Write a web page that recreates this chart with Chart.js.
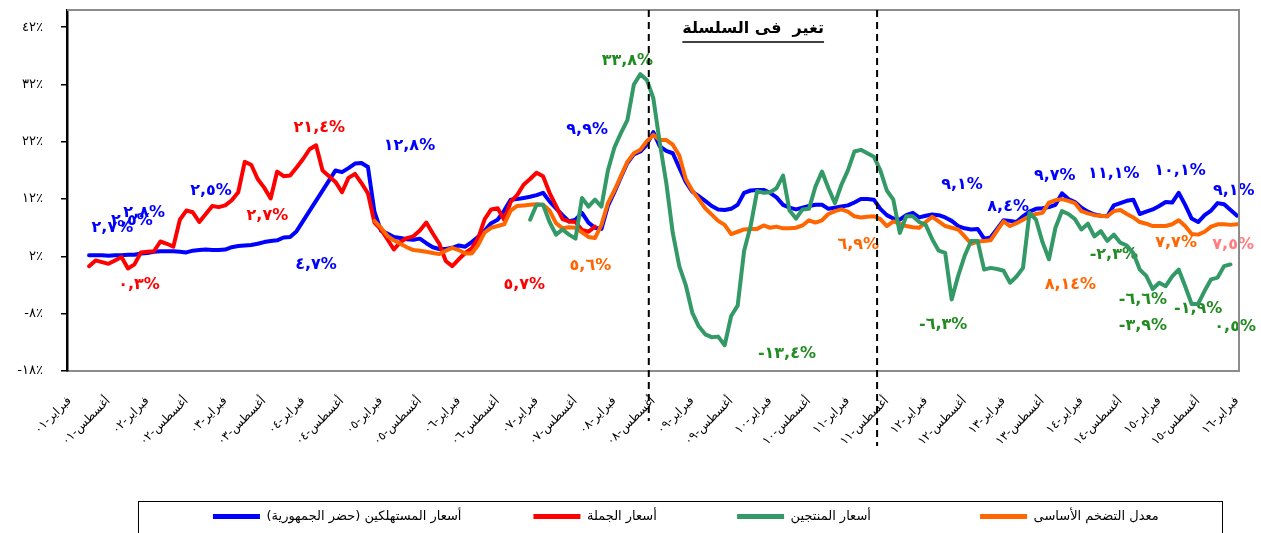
<!DOCTYPE html>
<html lang="ar">
<head>
    <meta charset="UTF-8">
    <title>تغير فى السلسلة</title>
    <script src="https://cdn.jsdelivr.net/npm/chart.js"></script>
    <style>
        html, body { margin: 0; padding: 0; background: #fff; }
        #wrap { width: 1261px; height: 533px; position: relative; }
    </style>
</head>
<body>
<div id="wrap"><canvas id="chart"></canvas></div>
<script>
// month index: 0 = فبراير 2001 ... 180 = فبراير 2016
const tickMonths = [0, 6, 12, 18, 24, 30, 36, 42, 48, 54, 60, 66, 72, 78, 84, 90,
    96, 102, 108, 114, 120, 126, 132, 138, 144, 150, 156, 162, 168, 174, 180];
const xTickLabels = [
    'فبراير-٠١', 'أغسطس-٠١', 'فبراير-٠٢', 'أغسطس-٠٢', 'فبراير-٠٣', 'أغسطس-٠٣',
    'فبراير-٠٤', 'أغسطس-٠٤', 'فبراير-٠٥', 'أغسطس-٠٥', 'فبراير-٠٦', 'أغسطس-٠٦',
    'فبراير-٠٧', 'أغسطس-٠٧', 'فبراير-٠٨', 'أغسطس-٠٨', 'فبراير-٠٩', 'أغسطس-٠٩',
    'فبراير-١٠', 'أغسطس-١٠', 'فبراير-١١', 'أغسطس-١١', 'فبراير-١٢', 'أغسطس-١٢',
    'فبراير-١٣', 'أغسطس-١٣', 'فبراير-١٤', 'أغسطس-١٤', 'فبراير-١٥', 'أغسطس-١٥',
    'فبراير-١٦'
];
const yTicks = [-18, -8, 2, 12, 22, 32, 42];

// أسعار المستهلكين (حضر الجمهورية) - from month 3
const cpiStart = 3;
const cpi = [
    2.2, 2.2, 2.2, 2.1, 2.2, 2.2, 2.3, 2.3, 2.5, 2.6,
    2.8, 2.9, 2.9, 2.9, 2.8, 2.7, 3.0, 3.1, 3.2, 3.1,
    3.1, 3.2, 3.6, 3.8, 3.9, 4.0, 4.2, 4.5, 4.7, 4.8,
    5.3, 5.4, 6.4, null, null, null, null, null, 17.0, 16.7,
    17.4, 18.2, 18.3, 17.6, 9.8, 6.5, 6.0, 5.4, 5.2, 5.0,
    4.9, 5.1, 4.3, 3.6, 3.3, 3.3, 3.5, 3.9, 3.7, 4.5,
    5.4, 6.5, 7.8, 8.4, 10.0, 11.9, 12.0, 12.2, 12.4, 12.7,
    13.1, 11.6, 10.4, 9.2, 8.1, 8.4, 9.6, 7.9, 7.0, 6.8,
    10.8, 13.2, 15.8, 18.3, 19.8, 20.3, 21.5, 23.7, 21.2, 20.4,
    20.0, 17.5, 15.0, 13.3, 12.5, 11.7, 10.8, 10.2, 10.1, 10.3,
    11.0, 13.1, 13.5, 13.6, 13.6, 13.1, 12.3, 11.0, 10.5, 10.2,
    10.5, 10.8, 11.0, 11.0, 10.3, 10.5, 10.7, 10.9, 11.4, 12.0,
    12.0, 11.9, 10.3, 9.2, 8.6, 8.4, 9.2, 9.6, 8.8, 9.1,
    9.3, 9.2, 8.8, 8.2, 7.3, 6.9, 6.7, 6.8, 5.1, 5.3,
    6.8, 8.3, 8.2, 8.0, 9.0, 9.8, 10.3, 10.4, 10.6, 11.0,
    13.0, 12.0, 11.5, 10.5, 9.8, 9.3, 9.1, 9.0, 10.9, 11.3,
    11.7, 11.9, 9.4, 9.8, 10.2, 10.8, 11.5, 11.4, 13.1, 11.0,
    8.6, 8.0, 9.2, 10.0, 11.3, 11.1, 10.1, 9.1
];

// أسعار الجملة - from month 3
const wpiStart = 3;
const wpi = [
    0.3, 1.3, 1.0, 0.7, 1.3, 1.9, -0.1, 0.6, 2.7, 2.8,
    2.9, 4.6, 4.2, 3.7, 8.4, 10.0, 9.7, 8.0, 9.4, 10.8,
    10.6, 10.9, 11.8, 13.2, 18.5, 18.0, 15.5, 14.0, 12.1, 16.8,
    16.0, 16.1, 17.5, 19.0, 20.7, 21.4, 17.0, 16.0, 15.0, 13.2,
    15.7, 16.4, 14.8, 13.0, 7.9, 6.7, 5.0, 3.2, 4.5, 5.2,
    5.5, 6.5, 7.9, 6.0, 4.2, 1.2, 0.3, 1.5, 2.6, 3.4,
    5.2, 8.5, 10.2, 10.4, 8.4, 11.5, 12.7, 14.5, 15.5, 16.6,
    16.0, 13.1, 10.8, 8.5, 8.1, 8.0, 6.6, 6.3, 7.2
];

// أسعار المنتجين - from month 71
const ppiStart = 71;
const ppi = [
    8.4, 11.0, 11.0, 8.0, 5.8, 6.7, 5.8, 5.1, 12.2, 10.7,
    11.9, 10.7, 17.0, 21.0, 23.5, 25.8, 32.0, 33.8, 32.8, 29.6,
    21.8, 14.8, 6.1, 0.3, -3.0, -7.8, -10.2, -11.6, -12.1, -12.0,
    -13.5, -8.4, -6.6, 3.0, 7.3, 13.4, 13.1, 13.2, 13.9, 16.1,
    10.0, 8.6, 10.2, 10.3, 14.2, 16.8, 13.9, 11.3, 14.5, 17.0,
    20.3, 20.6, 20.0, 19.4, 17.0, 13.5, 11.9, 6.1, 9.0, 9.0,
    8.0, 7.5, 5.0, 3.0, 2.6, -5.5, -1.4, 2.1, 4.7, 4.7,
    -0.3, 0.0, -0.2, -0.5, -2.6, -1.5, 0.0, 9.6, 8.4, 4.5,
    1.5, 7.0, 9.9, 9.4, 8.5, 6.7, 7.7, 5.5, 6.4, 4.7,
    5.8, 4.4, 3.9, 2.6, -0.3, -1.4, -3.7, -2.6, -3.2, -1.5,
    -0.3, -3.2, -6.3, -6.3, -4.0, -2.0, -1.7, 0.3, 0.6
];

// معدل التضخم الأساسى - from month 47
const coreStart = 47;
const core = [
    8.2, 7.0, 5.6, 4.8, 4.2, 3.6, 3.1, 3.0, 2.8, 2.6,
    2.4, 3.0, 3.5, 3.1, 2.5, 2.5, 4.0, 6.2, 7.0, 7.3,
    7.6, 10.0, 10.8, 10.9, 11.0, 11.1, 11.0, 10.0, 7.8, 6.9,
    7.1, 7.0, 6.2, 5.4, 5.2, 7.5, 11.3, 13.5, 16.0, 18.5,
    20.0, 20.6, 22.1, 23.2, 22.3, 22.3, 21.5, 19.6, 15.5, 13.5,
    12.0, 10.4, 9.3, 8.2, 7.5, 5.9, 6.3, 6.7, 6.8, 6.8,
    7.4, 7.0, 7.2, 6.9, 6.9, 7.0, 7.4, 8.3, 7.9, 8.3,
    9.4, 9.9, 10.2, 9.8, 9.0, 8.8, 8.9, 9.0, 8.5, 7.3,
    8.1, 7.7, 7.3, 7.1, 7.0, 8.0, 8.9, 8.1, 7.3, 7.0,
    6.7, 5.5, 4.2, 4.6, 4.7, 4.8, 6.5, 8.1, 7.3, 7.8,
    8.4, 9.0, 9.4, 9.6, 11.4, 11.8, 12.0, 11.7, 11.3, 9.9,
    9.5, 9.2, 9.1, 9.0, 9.9, 10.1, 9.4, 8.8, 8.0, 7.7,
    7.3, 7.3, 7.3, 7.6, 8.3, 7.3, 5.9, 5.8, 6.3, 7.2,
    7.6, 7.6, 7.5, 7.6
];

// value labels written on the chart: [month, value, text]
const cpiNotes = [
    [6.6, 7.0, '٢,٧%'], [9.6, 8.2, '٢,٥%'], [11.5, 9.6, '٢,٨%'],
    [21.8, 13.5, '٢,٥%'], [38.0, 0.6, '٤,٧%'], [52.4, 21.3, '١٢,٨%'],
    [79.8, 24.1, '٩,٩%'], [137.6, 14.5, '٩,١%'], [144.7, 10.7, '٨,٤%'],
    [151.9, 16.1, '٩,٧%'], [161.0, 16.4, '١١,١%'], [171.2, 17.0, '١٠,١%'],
    [179.5, 13.5, '٩,١%']
];
const wpiNotes = [
    [10.7, -2.9, '٠,٣%'], [38.5, 24.4, '٢١,٤%'], [30.5, 9.1, '٢,٧%'], [70.1, -3.0, '٥,٧%']
];
const ppiNotes = [
    [86.0, 36.1, '٣٣,٨%'], [110.6, -15.0, '-١٣,٤%'], [134.7, -10.0, '-٦,٣%'],
    [161.0, 2.2, '-٢,٣%'], [165.5, -5.5, '-٦,٦%'], [165.5, -10.2, '-٣,٩%'],
    [174.0, -7.2, '-١,٩%'], [179.7, -10.3, '٠,٥%']
];
const coreNotes = [
    [80.3, 0.4, '٥,٦%'], [121.6, 4.1, '٦,٩%'], [154.3, -2.9, '٨,١٤%'], [170.6, 4.3, '٧,٧%']
];
const coreNotesPink = [[179.4, 4.1, '٧,٥%']];

const seriesBreaks = [89.3, 124.5];   // dashed separators
const chartTitle = 'تغير  فى السلسلة';

const colors = {
    cpi: '#0000FF', wpi: '#FF0000', ppi: '#339966', core: '#FF6600',
    ppiText: '#228B22', pink: '#FF7C80'
};

function toPoints(start, arr) {
    return arr.map((v, i) => ({ x: start + i, y: v }));
}
function arabicDigits(s) {
    return String(s).replace(/\d/g, d => '٠١٢٣٤٥٦٧٨٩'[d]);
}

const ARFONT = '"DejaVu Sans", sans-serif';

const decor = {
    id: 'decor',
    beforeDatasetsDraw(chart) {
        const { ctx, scales: { x, y } } = chart;
        ctx.save();
        ctx.font = 'bold 16px ' + ARFONT;
        ctx.textAlign = 'center';
        ctx.textBaseline = 'middle';
        const groups = [
            [cpiNotes, colors.cpi], [wpiNotes, colors.wpi], [ppiNotes, colors.ppiText],
            [coreNotes, colors.core], [coreNotesPink, colors.pink]
        ];
        groups.forEach(([notes, col]) => {
            ctx.fillStyle = col;
            notes.forEach(n => ctx.fillText(n[2], x.getPixelForValue(n[0]), y.getPixelForValue(n[1])));
        });
        ctx.restore();
    },
    afterDatasetsDraw(chart) {
        const { ctx, chartArea: a, scales: { x, y } } = chart;
        ctx.save();
        // grey frame on top and right
        ctx.strokeStyle = '#8c8c8c';
        ctx.lineWidth = 2;
        ctx.beginPath();
        ctx.moveTo(a.left, a.top);
        ctx.lineTo(a.right, a.top);
        ctx.lineTo(a.right, a.bottom);
        ctx.stroke();
        // dashed separators
        ctx.strokeStyle = '#000';
        ctx.lineWidth = 2;
        ctx.setLineDash([7, 5]);
        seriesBreaks.forEach((m, i) => {
            const px = x.getPixelForValue(m);
            ctx.beginPath();
            ctx.moveTo(px, a.top);
            ctx.lineTo(px, a.bottom + (i === 0 ? 50 : 75));
            ctx.stroke();
        });
        ctx.setLineDash([]);
        // title
        ctx.font = 'bold 16px ' + ARFONT;
        ctx.fillStyle = '#000';
        ctx.textAlign = 'center';
        ctx.textBaseline = 'middle';
        const tx = x.getPixelForValue(105.4), ty = y.getPixelForValue(41.7);
        ctx.fillText(chartTitle, tx, ty);
        const w = ctx.measureText(chartTitle).width;
        ctx.lineWidth = 1.5;
        ctx.beginPath();
        ctx.moveTo(tx - w / 2, ty + 13);
        ctx.lineTo(tx + w / 2, ty + 13);
        ctx.stroke();
        ctx.restore();
    },
    afterDraw(chart) {
        const lg = chart.legend;
        if (!lg || !lg.legendHitBoxes.length) return;
        const l = lg.legendHitBoxes[0].left - 75;
        const r = lg.right - 17;
        const ctx = chart.ctx;
        ctx.save();
        ctx.strokeStyle = '#000';
        ctx.lineWidth = 1;
        ctx.strokeRect(l + 0.5, lg.top + 1.5, r - l, 60);
        ctx.restore();
    }
};

const gaps = [15, 17, 24, 17];   // extra spaces after each legend entry

const line = (label, col, start, arr, order) => ({
    label: label,
    data: toPoints(start, arr),
    borderColor: col,
    backgroundColor: col,
    borderWidth: 4,
    pointRadius: 0,
    tension: 0,
    fill: false,
    spanGaps: true,
    borderJoinStyle: 'round',
    borderCapStyle: 'round',
    order: order
});

new Chart(document.getElementById('chart'), {
    type: 'line',
    data: {
        datasets: [
            line('أسعار المستهلكين (حضر الجمهورية)', colors.cpi, cpiStart, cpi, 4),
            line('أسعار الجملة', colors.wpi, wpiStart, wpi, 3),
            line('أسعار المنتجين', colors.ppi, ppiStart, ppi, 1),
            line('معدل التضخم الأساسى', colors.core, coreStart, core, 2)
        ]
    },
    options: {
        responsive: true,
        maintainAspectRatio: false,
        animation: false,
        events: [],
        layout: { padding: { top: 10, right: 22, left: 0, bottom: 0 } },
        plugins: {
            title: { display: false },
            tooltip: { enabled: false },
            legend: {
                position: 'bottom',
                align: 'end',
                fullSize: false,
                labels: {
                    boxWidth: 47,
                    boxHeight: 5,
                    padding: 10,
                    color: '#000',
                    font: { family: ARFONT, size: 13 },
                    generateLabels: ch => ch.data.datasets.map((d, i) => ({
                        text: d.label + ' '.repeat(gaps[i]),
                        fillStyle: d.borderColor,
                        strokeStyle: d.borderColor,
                        lineWidth: 0,
                        hidden: false,
                        datasetIndex: i,
                        fontColor: '#000'
                    }))
                }
            }
        },
        scales: {
            x: {
                type: 'linear',
                min: -0.4,
                max: 180.3,
                afterBuildTicks: s => { s.ticks = tickMonths.map(v => ({ value: v })); },
                afterFit: s => { s.height = 129; s.paddingLeft = 0; s.paddingRight = 0; },
                grid: { display: false },
                border: { display: true, color: '#8c8c8c', width: 2 },
                ticks: {
                    autoSkip: false,
                    minRotation: 45,
                    maxRotation: 45,
                    padding: 15,
                    color: '#000',
                    font: { family: ARFONT, size: 12 },
                    callback: (v, i) => xTickLabels[i]
                }
            },
            y: {
                min: -18,
                max: 45,
                afterBuildTicks: s => { s.ticks = yTicks.map(v => ({ value: v })); },
                afterFit: s => { s.width = 67; s.paddingTop = 0; s.paddingBottom = 0; },
                grid: { drawOnChartArea: false, drawTicks: true, tickLength: 6, color: '#000', lineWidth: 1.5 },
                border: { display: true, color: '#000', width: 2.5 },
                ticks: {
                    padding: 18,
                    color: '#000',
                    font: { family: ARFONT, size: 13 },
                    callback: v => arabicDigits(v) + '٪'
                }
            }
        }
    },
    plugins: [decor]
});
</script>
</body>
</html>
